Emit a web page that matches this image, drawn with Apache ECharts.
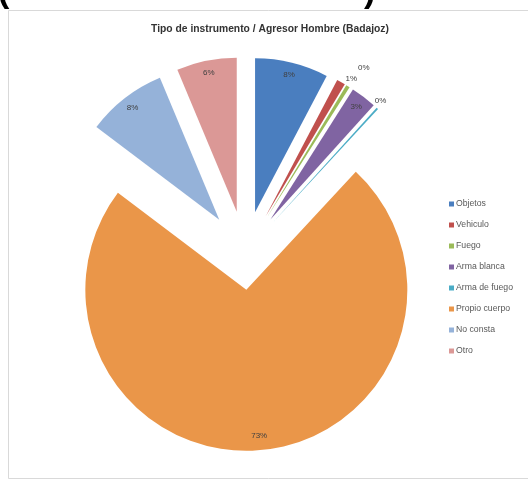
<!DOCTYPE html>
<html>
<head>
<meta charset="utf-8">
<script src="https://cdn.jsdelivr.net/npm/echarts@6/dist/echarts.min.js"></script>
<style>
html,body{margin:0;padding:0;background:#fff;}
#main{width:528px;height:482px;}
</style>
</head>
<body>
<div id="main"></div>
<script>
// ---- data ----
var categories = ['Objetos', 'Vehiculo', 'Fuego', 'Arma blanca', 'Arma de fuego', 'Propio cuerpo', 'No consta', 'Otro'];
var values = [7.7, 0.9, 0.4, 2.7, 0.2, 73.4, 8.4, 6.3];
var colors = ['#4A7EBF', '#C0504D', '#9BBB59', '#8064A2', '#4BACC6', '#EA9649', '#95B2D9', '#DB9896'];
var chartTitle = 'Tipo de instrumento / Agresor Hombre (Badajoz)';

// ---- layout ----
var C = [245, 253];        // centre for exploded slices
var Cbig = [243, 252];     // centre for the big slice
var R = 154;
var Rbig = 161;
var explodeMain = 42;
var explodeBig = 38;
var bigName = 'Propio cuerpo';
var outsideNames = ['Vehiculo', 'Fuego', 'Arma de fuego'];
var outsideLabelShift = { 'Vehiculo': [3, 10], 'Fuego': [8, -6], 'Arma de fuego': [-7, 3] };

var TRANSP = 'rgba(0,0,0,0)';

function pct(p) { return Math.round(p.value) + '%'; }

function buildSeries(opts) {
  var s = {
    type: 'pie',
    center: opts.center,
    radius: opts.radius,
    startAngle: 90,
    clockwise: true,
    selectedMode: 'multiple',
    selectedOffset: opts.offset,
    avoidLabelOverlap: false,
    silent: true,
    animation: false,
    emphasis: { disabled: true },
    labelLine: { show: false },
    z: opts.z || 2,
    data: categories.map(function (n, i) {
      var vis = opts.visible(n);
      return {
        name: n,
        value: values[i],
        selected: vis,
        itemStyle: { color: (vis && opts.showFill) ? colors[i] : TRANSP, borderWidth: 0 },
        label: {
          show: vis && opts.labelFor(n),
          position: 'inside',
          formatter: pct,
          color: '#404040',
          fontSize: 8,
          fontFamily: 'Liberation Sans'
        }
      };
    })
  };
  if (opts.shift) {
    s.labelLayout = function (p) {
      var d = opts.shift[categories[p.dataIndex]] || [0, 0];
      return { dx: d[0], dy: d[1] };
    };
  }
  return s;
}

var isBig = function (n) { return n === bigName; };
var notBig = function (n) { return n !== bigName; };
var none = function () { return false; };
var all = function () { return true; };
var notOutside = function (n) { return outsideNames.indexOf(n) < 0; };
var isOutside = function (n) { return outsideNames.indexOf(n) >= 0; };

var series = [
  buildSeries({ center: C, visible: notBig, showFill: true, radius: [0, R], offset: explodeMain, labelFor: none }),
  buildSeries({ center: Cbig, visible: isBig, showFill: true, radius: [0, Rbig], offset: explodeBig, labelFor: none }),
  buildSeries({ center: C, visible: function (n) { return notBig(n) && notOutside(n); }, showFill: false, radius: [R * 0.8, R], offset: explodeMain, labelFor: all, z: 3 }),
  buildSeries({ center: Cbig, visible: isBig, showFill: false, radius: [Rbig * 0.78, Rbig], offset: explodeBig, labelFor: all, z: 3 }),
  buildSeries({ center: C, visible: isOutside, showFill: false, radius: [R + 2, R + 22], offset: explodeMain, labelFor: all, shift: outsideLabelShift, z: 3 })
];

var chart = echarts.init(document.getElementById('main'), null, { renderer: 'canvas' });
chart.setOption({
  backgroundColor: '#fff',
  animation: false,
  title: {
    text: chartTitle,
    left: 265,
    textAlign: 'center',
    top: 19,
    textStyle: { fontFamily: 'Liberation Sans', fontWeight: 'bold', fontSize: 10.3, color: '#333' }
  },
  legend: {
    orient: 'vertical',
    left: 444,
    top: 194,
    icon: 'rect',
    itemWidth: 5,
    itemHeight: 5,
    itemGap: 11,
    selectedMode: false,
    textStyle: { fontFamily: 'Liberation Sans', fontSize: 8.7, color: '#595959', lineHeight: 10, padding: [0, 0, 0, -3] },
    data: categories.map(function (n, i) { return { name: n, itemStyle: { color: colors[i] } }; })
  },
  graphic: [
    { type: 'rect', shape: { x: 8.5, y: 10.5, width: 530, height: 468 }, style: { fill: 'none', stroke: '#D9D9D9', lineWidth: 1 }, silent: true, z: -1 },
    { type: 'text', left: -2, top: -24, style: { text: '(', font: 'bold 34px Liberation Sans', fill: '#000' }, silent: true },
    { type: 'text', left: 364, top: -24, style: { text: ')', font: 'bold 34px Liberation Sans', fill: '#000' }, silent: true }
  ],
  series: series
});
</script>
</body>
</html>
